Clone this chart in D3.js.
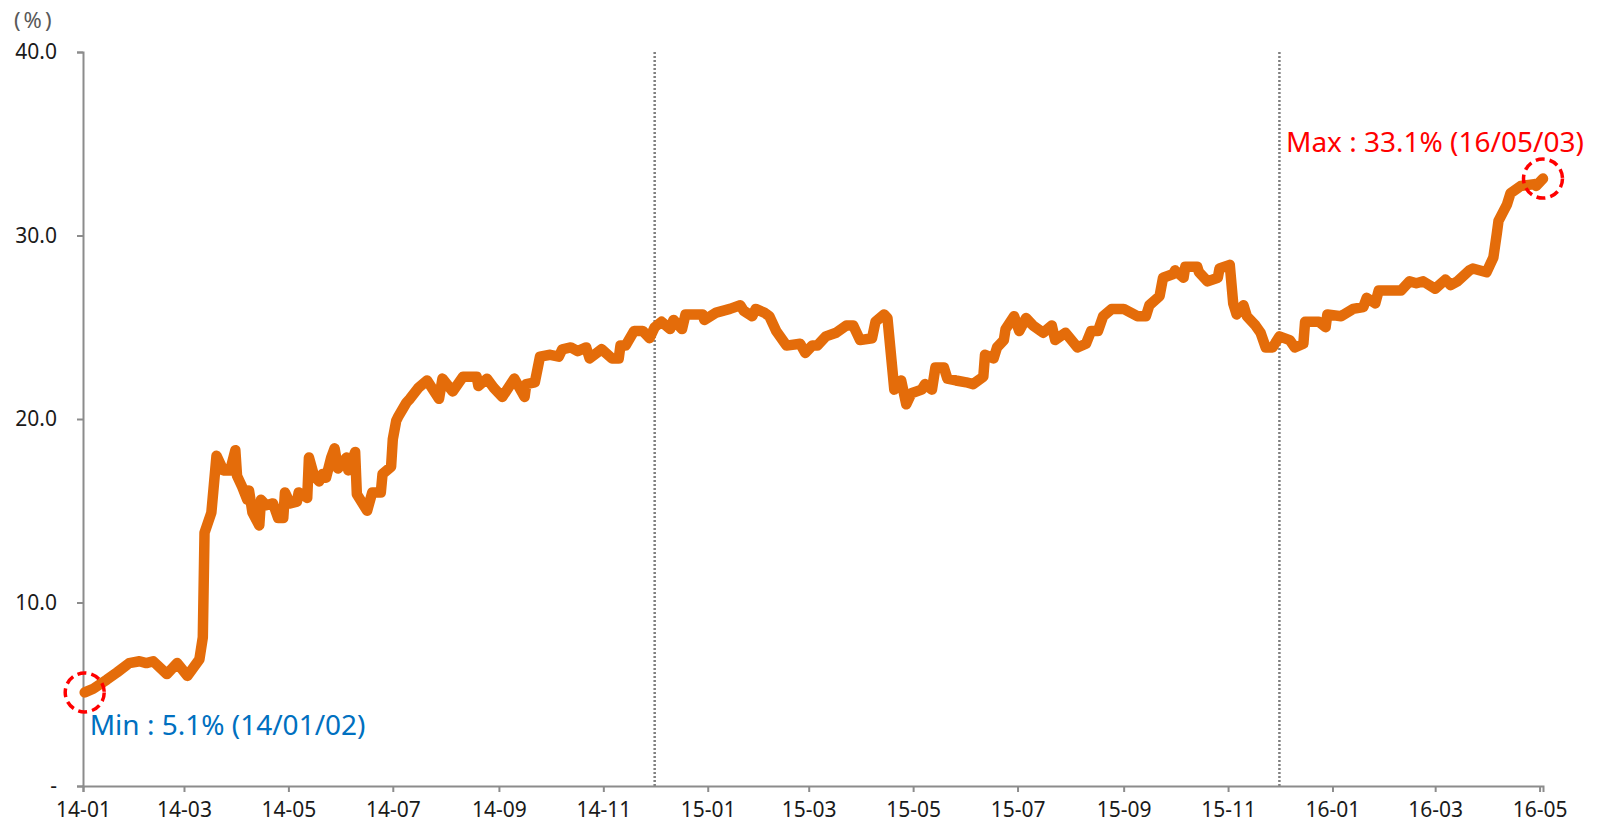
<!DOCTYPE html>
<html>
<head>
<meta charset="utf-8">
<script src="https://cdn.jsdelivr.net/npm/d3@7"></script>
<style>
  body { margin: 0; background: #fff; }
  text { font-family: "Noto Sans", "Open Sans", sans-serif; }
</style>
</head>
<body>
<svg id="chart"></svg>
<script>
// dates of the series (yy-mm-dd)
var dates = [
  "2014-01-02","2014-01-07","2014-01-15","2014-01-21","2014-01-28","2014-02-03","2014-02-07","2014-02-11",
  "2014-02-19","2014-02-25","2014-03-03","2014-03-10","2014-03-12","2014-03-13","2014-03-17","2014-03-20",
  "2014-03-24","2014-03-28","2014-03-31","2014-04-01","2014-04-04","2014-04-07","2014-04-08","2014-04-10",
  "2014-04-14","2014-04-15","2014-04-18","2014-04-22","2014-04-25","2014-04-28","2014-04-29","2014-05-02",
  "2014-05-06","2014-05-07","2014-05-12","2014-05-13","2014-05-16","2014-05-19","2014-05-21","2014-05-23",
  "2014-05-26","2014-05-28","2014-05-30","2014-06-04","2014-06-05","2014-06-09","2014-06-10","2014-06-16",
  "2014-06-19","2014-06-24","2014-06-25","2014-06-30","2014-07-01","2014-07-03","2014-07-04","2014-07-09",
  "2014-07-11","2014-07-16","2014-07-21","2014-07-28","2014-07-30","2014-08-05","2014-08-11","2014-08-19",
  "2014-08-20","2014-08-25","2014-08-29","2014-09-03","2014-09-10","2014-09-16","2014-09-17","2014-09-22",
  "2014-09-25","2014-10-01","2014-10-06","2014-10-08","2014-10-13","2014-10-17","2014-10-22","2014-10-24",
  "2014-10-31","2014-11-06","2014-11-10","2014-11-11","2014-11-14","2014-11-19","2014-11-24","2014-11-28",
  "2014-12-01","2014-12-05","2014-12-10","2014-12-12","2014-12-17","2014-12-19","2014-12-29","2014-12-30",
  "2015-01-06","2015-01-14","2015-01-20","2015-01-22","2015-01-27","2015-01-29","2015-02-03","2015-02-06",
  "2015-02-10","2015-02-16","2015-02-24","2015-02-27","2015-03-03","2015-03-06","2015-03-11","2015-03-17",
  "2015-03-23","2015-03-27","2015-03-31","2015-04-07","2015-04-09","2015-04-14","2015-04-16","2015-04-20",
  "2015-04-24","2015-04-27","2015-04-30","2015-05-06","2015-05-08","2015-05-12","2015-05-14","2015-05-19",
  "2015-05-21","2015-05-26","2015-06-01","2015-06-05","2015-06-11","2015-06-12","2015-06-17","2015-06-19",
  "2015-06-23","2015-06-24","2015-06-29","2015-07-02","2015-07-06","2015-07-10","2015-07-16","2015-07-21",
  "2015-07-23","2015-07-29","2015-08-05","2015-08-10","2015-08-13","2015-08-17","2015-08-20","2015-08-25",
  "2015-09-01","2015-09-09","2015-09-14","2015-09-16","2015-09-22","2015-09-24","2015-09-30","2015-10-01",
  "2015-10-06","2015-10-07","2015-10-14","2015-10-15","2015-10-20","2015-10-26","2015-10-27","2015-11-02",
  "2015-11-04","2015-11-06","2015-11-10","2015-11-12","2015-11-17","2015-11-20","2015-11-23","2015-11-27",
  "2015-12-01","2015-12-07","2015-12-10","2015-12-15","2015-12-16","2015-12-24","2015-12-28","2015-12-29",
  "2016-01-06","2016-01-13","2016-01-19","2016-01-21","2016-01-26","2016-01-28","2016-02-04","2016-02-10",
  "2016-02-15","2016-02-19","2016-02-23","2016-03-01","2016-03-07","2016-03-10","2016-03-14","2016-03-21",
  "2016-03-23","2016-03-31","2016-04-04","2016-04-06","2016-04-07","2016-04-12","2016-04-14","2016-04-20",
  "2016-04-28","2016-04-29","2016-05-03"
];

// values (%)
var values = [
  5.1, 5.3, 5.8, 6.2, 6.7, 6.8, 6.7, 6.8,
  6.1, 6.7, 6.0, 6.9, 8.1, 13.8, 14.9, 18.0,
  17.2, 17.2, 18.3, 16.9, 16.3, 15.6, 16.1, 14.9,
  14.2, 15.6, 15.3, 15.4, 14.6, 14.6, 16.0, 15.4,
  15.5, 16.0, 15.7, 17.9, 16.9, 16.6, 17.0, 16.8,
  17.9, 18.4, 17.3, 17.9, 17.2, 18.2, 15.9, 15.0,
  16.0, 16.0, 17.0, 17.4, 18.9, 19.9, 20.1, 20.9,
  21.1, 21.7, 22.1, 21.1, 22.2, 21.5, 22.3, 22.3,
  21.8, 22.2, 21.7, 21.2, 22.2, 21.2, 21.9, 22.0,
  23.4, 23.5, 23.4, 23.8, 23.9, 23.7, 23.9, 23.3,
  23.8, 23.3, 23.3, 24.0, 24.0, 24.8, 24.8, 24.4,
  25.0, 25.3, 24.9, 25.4, 24.9, 25.7, 25.7, 25.4,
  25.8, 26.0, 26.2, 25.9, 25.6, 26.0, 25.8, 25.6,
  24.8, 24.0, 24.1, 23.6, 24.0, 24.0, 24.5, 24.7,
  25.1, 25.1, 24.3, 24.4, 25.3, 25.7, 25.5, 21.6,
  22.1, 20.8, 21.4, 21.6, 21.9, 21.6, 22.8, 22.8,
  22.2, 22.1, 22.0, 21.9, 22.3, 23.5, 23.3, 23.9,
  24.3, 24.9, 25.6, 24.8, 25.5, 25.1, 24.7, 25.1,
  24.3, 24.7, 23.9, 24.1, 24.8, 24.8, 25.6, 26.0,
  26.0, 25.6, 25.6, 26.2, 26.7, 27.7, 27.9, 28.1,
  27.7, 28.3, 28.3, 28.0, 27.5, 27.7, 28.2, 28.4,
  26.3, 25.7, 26.2, 25.6, 25.1, 24.7, 23.9, 23.9,
  24.5, 24.3, 23.9, 24.1, 25.3, 25.3, 25.0, 25.7,
  25.6, 26.0, 26.1, 26.6, 26.3, 27.0, 27.0, 27.0,
  27.5, 27.4, 27.5, 27.1, 27.6, 27.3, 27.5, 28.1,
  28.2, 28.0, 28.8, 30.1, 30.8, 31.7, 32.3, 32.7,
  32.8, 32.7, 33.1
];

var yTicks = [0, 10, 20, 30, 40];
var xTicks = ["2014-01","2014-03","2014-05","2014-07","2014-09","2014-11","2015-01","2015-03",
              "2015-05","2015-07","2015-09","2015-11","2016-01","2016-03","2016-05"];
var yearMarks = ["2014-12-01", "2015-12-01"];   // dotted separators

var minLabel = "Min : 5.1% (14/01/02)";
var maxLabel = "Max : 33.1% (16/05/03)";

main();

function main() {
	var width = 1604;
	var height = 826;
	var parseDay = d3.timeParse("%Y-%m-%d");
	var parseMonth = d3.timeParse("%Y-%m");

	var data = dates.map(function(d, i) { return { date: parseDay(d), value: values[i] }; });

	var svg = d3.select('#chart').attr('width', width).attr('height', height);

	var x = d3.scaleTime()
		.domain([parseDay("2014-01-01"), parseDay("2016-05-03")])
		.range([83, 1543]);
	var y = d3.scaleLinear().domain([0, 40]).range([786, 52]);

	// dotted year separators
	svg.selectAll('.sep')
		.data(yearMarks)
		.enter().append('line')
		.attr('x1', function(d) { return x(parseDay(d)); })
		.attr('x2', function(d) { return x(parseDay(d)); })
		.attr('y1', y(40))
		.attr('y2', y(0))
		.attr('stroke', '#7f7f7f')
		.attr('stroke-width', 2.5)
		.attr('stroke-dasharray', '2,2');

	// y axis
	var yAxis = svg.append('g')
		.attr('transform', 'translate(' + x.range()[0] + ',0)')
		.call(d3.axisLeft(y)
			.tickValues(yTicks)
			.tickSize(6)
			.tickPadding(20)
			.tickFormat(function(d) { return d === 0 ? '-' : d.toFixed(1); }));

	// x axis
	var xAxis = svg.append('g')
		.attr('transform', 'translate(0,' + y(0) + ')')
		.call(d3.axisBottom(x)
			.tickValues(xTicks.map(parseMonth))
			.tickSize(6)
			.tickPadding(10)
			.tickFormat(d3.timeFormat("%y-%m")));

	[yAxis, xAxis].forEach(function(g) {
		g.select('.domain').attr('stroke', '#8c8c8c').attr('stroke-width', 2);
		g.selectAll('.tick line').attr('stroke', '#8c8c8c').attr('stroke-width', 2);
		g.selectAll('.tick text')
			.attr('fill', '#1a1a1a')
			.style('font-size', '21px')
			.style('font-family', '"Noto Sans", "Open Sans", sans-serif');
	});

	// unit
	svg.append('text')
		.attr('x', 14)
		.attr('y', 28)
		.attr('fill', '#595959')
		.style('font-size', '22px')
		.style('letter-spacing', '3px')
		.text('(%)');

	// the series
	var line = d3.line()
		.x(function(d) { return x(d.date); })
		.y(function(d) { return y(d.value); });

	svg.append('path')
		.datum(data)
		.attr('d', line)
		.attr('fill', 'none')
		.attr('stroke', '#E46C0A')
		.attr('stroke-width', 10.5)
		.attr('stroke-linejoin', 'round')
		.attr('stroke-linecap', 'round');

	// min / max markers
	var first = data[0];
	var last = data[data.length - 1];

	svg.selectAll('.mark')
		.data([first, last])
		.enter().append('circle')
		.attr('cx', function(d) { return x(d.date); })
		.attr('cy', function(d) { return y(d.value); })
		.attr('r', 19.5)
		.attr('fill', 'none')
		.attr('stroke', '#ff0000')
		.attr('stroke-width', 3.5)
		.attr('stroke-dasharray', '9,5');

	svg.append('text')
		.attr('x', x(first.date) + 5)
		.attr('y', y(first.value) + 43)
		.attr('fill', '#0070C0')
		.style('font-size', '28px')
		.text(minLabel);

	svg.append('text')
		.attr('x', x(last.date) - 257)
		.attr('y', y(last.value) - 27)
		.attr('fill', '#ff0000')
		.style('font-size', '28px')
		.text(maxLabel);
}
</script>
</body>
</html>
